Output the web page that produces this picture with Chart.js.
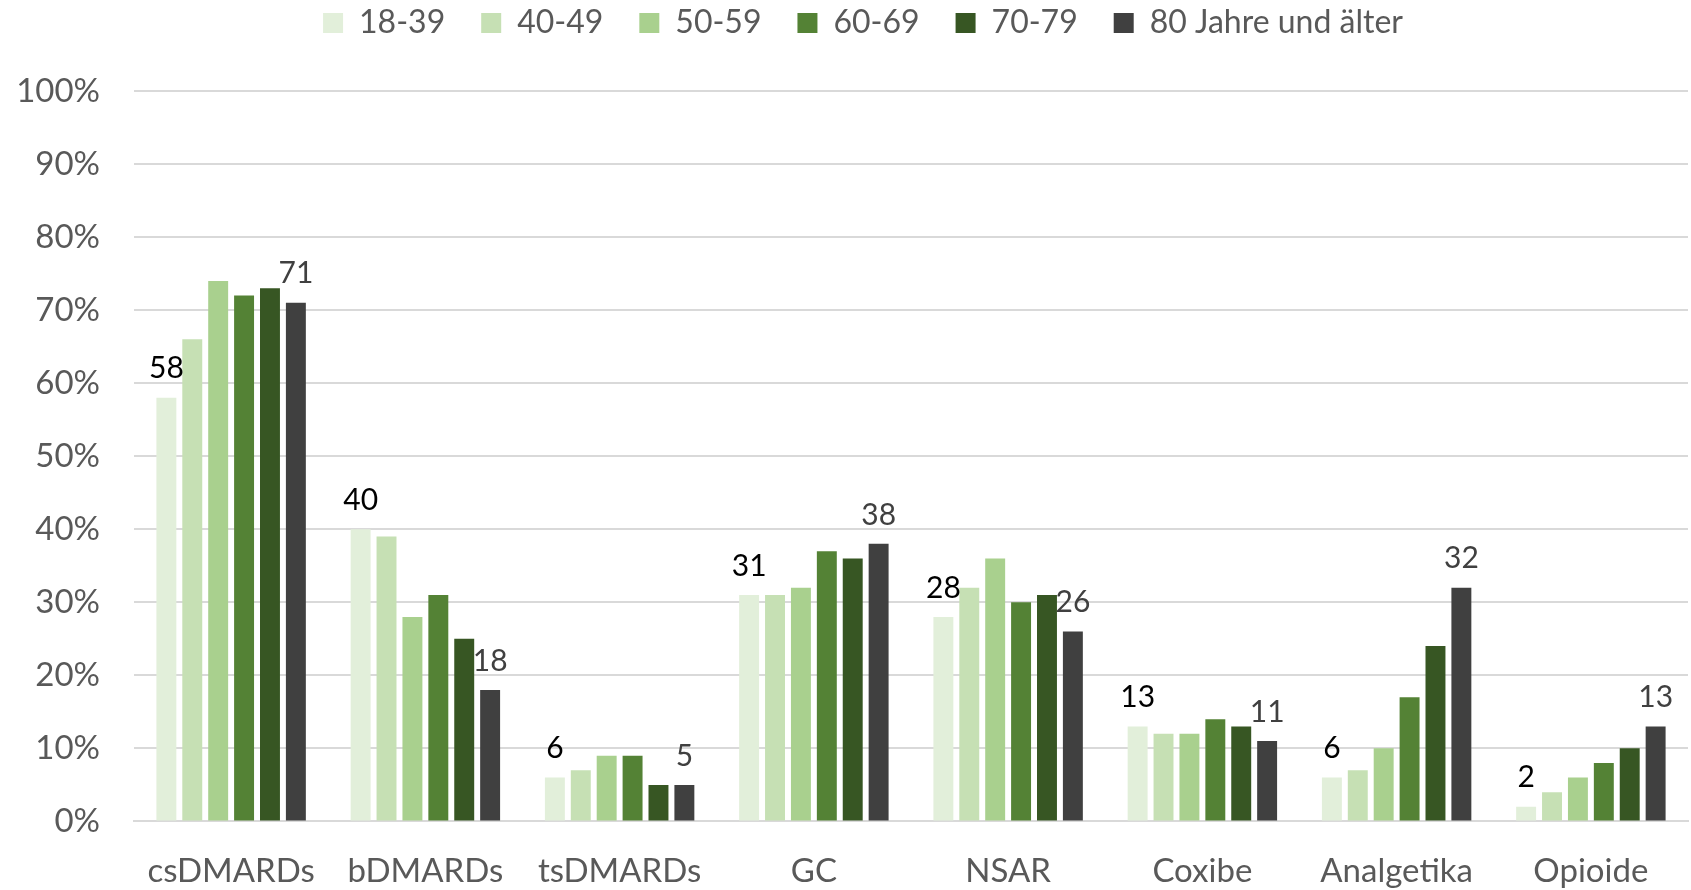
<!DOCTYPE html>
<html>
<head>
<meta charset="utf-8">
<script src="https://cdn.jsdelivr.net/npm/chart.js@4/dist/chart.umd.min.js"></script>
<style>
  html, body { margin: 0; padding: 0; background: #fff; }
  #wrap { width: 1691px; height: 890px; }
</style>
</head>
<body>
<div id="wrap"><canvas id="myChart"></canvas></div>
<script>
const categories = ["csDMARDs", "bDMARDs", "tsDMARDs", "GC", "NSAR", "Coxibe", "Analgetika", "Opioide"];
const groups = ["18-39", "40-49", "50-59", "60-69", "70-79", "80 Jahre und älter"];

const age18_39 = [58, 40, 6, 31, 28, 13, 6, 2];
const age40_49 = [66, 39, 7, 31, 32, 12, 7, 4];
const age50_59 = [74, 28, 9, 32, 36, 12, 10, 6];
const age60_69 = [72, 31, 9, 37, 30, 14, 17, 8];
const age70_79 = [73, 25, 5, 36, 31, 13, 24, 10];
const age80plus = [71, 18, 5, 38, 26, 11, 32, 13];

const yTicks = [0, 10, 20, 30, 40, 50, 60, 70, 80, 90, 100];

const colors = ["#E2EFDA", "#C6E0B4", "#A9D08E", "#548235", "#375623", "#404040"];
const series = [age18_39, age40_49, age50_59, age60_69, age70_79, age80plus];

// only the youngest and oldest group get value labels
const labelColors = { 0: "#000000", 5: "#404040" };

const valueLabels = {
  id: "valueLabels",
  afterDatasetsDraw(chart) {
    const c = chart.ctx;
    c.save();
    c.font = "30px Lato";
    c.textAlign = "center";
    c.textBaseline = "bottom";
    Object.keys(labelColors).forEach(i => {
      const meta = chart.getDatasetMeta(+i);
      c.fillStyle = labelColors[i];
      meta.data.forEach((bar, j) => {
        c.fillText(chart.data.datasets[i].data[j], bar.x, bar.y - 14);
      });
    });
    c.restore();
  }
};

// reserve room above the plot and pull the legend row up
const legendSpace = {
  id: "legendSpace",
  beforeInit(chart) {
    const fit = chart.legend.fit;
    chart.legend.fit = function () {
      fit.bind(chart.legend)();
      this.height = 87;
    };
  },
  afterLayout(chart) {
    chart.legend.top = -29;
    chart.legend.left += 19;
    chart.legend.right += 19;
  }
};

const ctx = document.getElementById("myChart");

new Chart(ctx, {
  type: "bar",
  data: {
    labels: categories,
    datasets: series.map((d, i) => ({
      label: groups[i],
      data: d,
      backgroundColor: colors[i],
      borderWidth: 0,
      categoryPercentage: 0.8,
      barPercentage: 0.77,
    })),
  },
  options: {
    responsive: true,
    maintainAspectRatio: false,
    animation: false,
    layout: { padding: { left: 0, right: 3, top: 4, bottom: -31 } },
    plugins: {
      tooltip: { enabled: false },
      legend: {
        position: "top",
        labels: {
          font: { family: "Lato", size: 32 },
          color: "#595959",
          boxWidth: 20,
          boxHeight: 20,
          padding: 36,
        },
      },
    },
    scales: {
      x: {
        grid: { display: false, drawTicks: false },
        border: { color: "#D9D9D9", width: 2 },
        ticks: { font: { family: "Lato", size: 33 }, color: "#595959", padding: 30 },
      },
      y: {
        min: 0,
        max: 100,
        afterFit(scale) { scale.width = 134; },
        afterBuildTicks(scale) { scale.ticks = yTicks.map(v => ({ value: v })); },
        grid: { color: "#D9D9D9", lineWidth: 2, drawTicks: false },
        border: { display: false },
        ticks: {
          font: { family: "Lato", size: 33 },
          color: "#595959",
          padding: 34,
          callback: v => v + "%",
        },
      },
    },
  },
  plugins: [valueLabels, legendSpace],
});
</script>
</body>
</html>
